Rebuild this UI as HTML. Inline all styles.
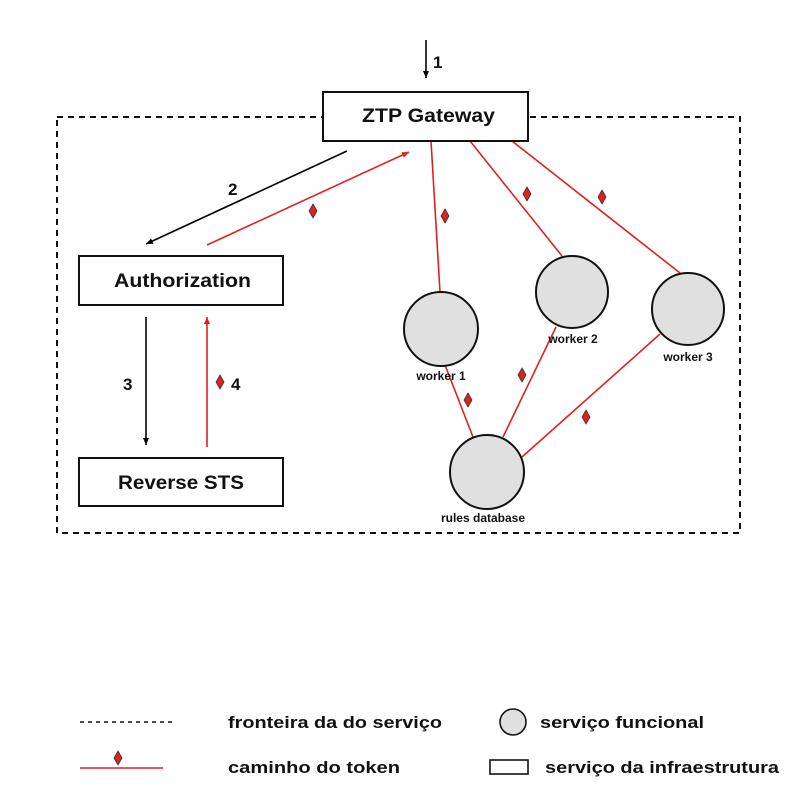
<!DOCTYPE html>
<html><head><meta charset="utf-8"><style>body{margin:0;background:#fff}svg{display:block}text{font-family:"Liberation Sans",sans-serif;font-weight:bold;fill:#111}</style></head><body>
<svg width="801" height="800" viewBox="0 0 801 800" xmlns="http://www.w3.org/2000/svg">
<defs>
<marker id="ab" markerWidth="8" markerHeight="8" refX="7" refY="4" orient="auto" markerUnits="userSpaceOnUse"><path d="M0,1 L7,4 L0,7 Z" fill="#000"/></marker>
<marker id="ar" markerWidth="8" markerHeight="8" refX="7" refY="4" orient="auto" markerUnits="userSpaceOnUse"><path d="M0,1 L7,4 L0,7 Z" fill="#e02020"/></marker>
<g id="d"><path d="M0,-7 L4,0 L0,7 L-4,0 Z" fill="#e02020" stroke="#333" stroke-width="0.8"/></g>
</defs>
<rect x="57" y="117" width="683" height="416" fill="none" stroke="#111" stroke-width="2" stroke-dasharray="6,5"/>
<g stroke="#e02020" stroke-width="1.6" fill="none">
<line x1="431" y1="141" x2="440" y2="292"/>
<line x1="470" y1="141" x2="562" y2="256"/>
<line x1="512" y1="141" x2="680" y2="273"/>
<line x1="445" y1="365" x2="473" y2="437"/>
<line x1="556" y1="327" x2="503" y2="437"/>
<line x1="660" y1="334" x2="522" y2="457"/>
<line x1="207" y1="245" x2="409" y2="152" marker-end="url(#ar)"/>
<line x1="207" y1="447" x2="207" y2="317" marker-end="url(#ar)"/>
</g>
<g stroke="#000" stroke-width="1.6">
<line x1="426" y1="40" x2="426" y2="78" marker-end="url(#ab)"/>
<line x1="347" y1="151" x2="146" y2="244" marker-end="url(#ab)"/>
<line x1="146" y1="317" x2="146" y2="445" marker-end="url(#ab)"/>
</g>
<use href="#d" x="313" y="211"/><use href="#d" x="445" y="216"/><use href="#d" x="527" y="194"/><use href="#d" x="602" y="197"/>
<use href="#d" x="468" y="400"/><use href="#d" x="522" y="375"/><use href="#d" x="586" y="417"/><use href="#d" x="220" y="382"/>
<g fill="#fff" stroke="#111" stroke-width="2">
<rect x="323" y="92" width="205" height="49"/>
<rect x="79" y="256" width="204" height="49"/>
<rect x="79" y="458" width="204" height="48"/>
</g>
<g fill="#e0e0e0" stroke="#111" stroke-width="2">
<circle cx="441" cy="329" r="37"/><circle cx="572" cy="292" r="36"/><circle cx="688" cy="309" r="36"/><circle cx="487" cy="472" r="37"/>
</g>
<g font-size="19" lengthAdjust="spacingAndGlyphs">
<text x="362" y="122" textLength="133" lengthAdjust="spacingAndGlyphs">ZTP Gateway</text>
<text x="114" y="287" textLength="137" lengthAdjust="spacingAndGlyphs">Authorization</text>
<text x="118" y="489" textLength="126" lengthAdjust="spacingAndGlyphs">Reverse STS</text>
</g>
<g font-size="17"><text x="433" y="68">1</text><text x="228" y="195">2</text><text x="123" y="390">3</text><text x="231" y="390">4</text></g>
<g font-size="12" text-anchor="middle"><text x="441" y="380">worker 1</text><text x="573" y="343">worker 2</text><text x="688" y="361">worker 3</text><text x="483" y="522">rules database</text></g>
<line x1="80" y1="722" x2="172" y2="722" stroke="#111" stroke-width="1.6" stroke-dasharray="4,4"/>
<line x1="80" y1="768" x2="163" y2="768" stroke="#e02020" stroke-width="1.6"/>
<use href="#d" x="118" y="758"/>
<circle cx="513" cy="722" r="13" fill="#e0e0e0" stroke="#111" stroke-width="1.6"/>
<rect x="490" y="760" width="38" height="14" fill="#fff" stroke="#111" stroke-width="1.6"/>
<g font-size="17" style="font-weight:600">
<text x="228" y="728" textLength="214" lengthAdjust="spacingAndGlyphs">fronteira da do serviço</text>
<text x="540" y="728" textLength="164" lengthAdjust="spacingAndGlyphs">serviço funcional</text>
<text x="228" y="773" textLength="172" lengthAdjust="spacingAndGlyphs">caminho do token</text>
<text x="545" y="773" textLength="234" lengthAdjust="spacingAndGlyphs">serviço da infraestrutura</text>
</g>
</svg>
</body></html>
